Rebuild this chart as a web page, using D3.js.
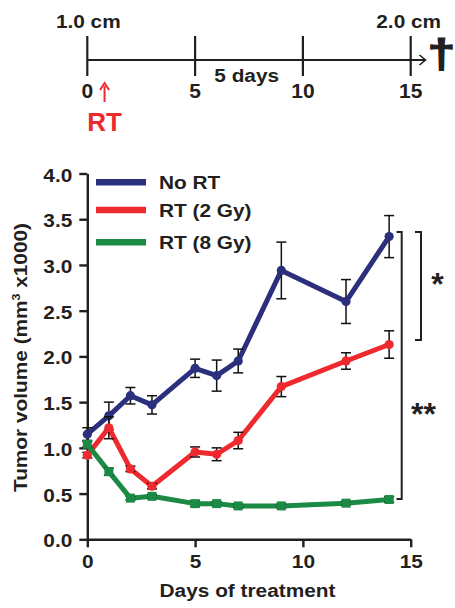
<!DOCTYPE html>
<html><head><meta charset="utf-8">
<script src="https://cdn.jsdelivr.net/npm/d3@7"></script>
<style>
html,body{margin:0;padding:0;background:#fff;}
svg{display:block;}
text{font-family:"Liberation Sans",Arial,Helvetica,sans-serif;font-weight:bold;fill:#231f20;}
</style></head>
<body>
<svg id="c" width="455" height="608"></svg>
<script>
// ---------- data ----------
const days = [0, 1, 2, 3, 5, 6, 7, 9, 12, 14];
const seriesNames = ["No RT", "RT (2 Gy)", "RT (8 Gy)"];
const noRT     = [1.15, 1.35, 1.57, 1.47, 1.87, 1.79, 1.95, 2.94, 2.60, 3.31];
const noRTErr  = [0.07, 0.15, 0.09, 0.10, 0.10, 0.17, 0.13, 0.31, 0.24, 0.23];
const rt2      = [0.92, 1.22, 0.77, 0.58, 0.955, 0.93, 1.08, 1.67, 1.95, 2.13];
const rt2Err   = [0.03, 0.12, 0.03, 0.03, 0.055, 0.07, 0.09, 0.11, 0.09, 0.15];
const rt8      = [1.04, 0.74, 0.45, 0.47, 0.39, 0.39, 0.365, 0.365, 0.395, 0.435];
const rt8Err   = [0.03, 0.04, 0.02, 0.02, 0.03, 0.02, 0.02, 0.02, 0.02, 0.03];
const yTicks = [0, 0.5, 1.0, 1.5, 2.0, 2.5, 3.0, 3.5, 4.0];
const xTicks = [0, 5, 10, 15];
const timelineTicks = [0, 5, 10, 15];
const rtDay = 0.8;
const colors = ["#2b2f7c", "#ee2a2e", "#1b8a44"];
const markers = ["circle", "circle", "square"];

const svg = d3.select("#c");
const SX = 1.12; // horizontal stretch of lettering
const ink = "#231f20";

const x = d3.scaleLinear().domain([0, 15]).range([87.3, 410.7]);
const y = d3.scaleLinear().domain([0, 4]).range([539.3, 173.5]);

function txt(g, s, tx, ty, size, anchor, color, sx) {
  return g.append("text")
    .attr("transform", `translate(${tx},${ty}) scale(${sx == null ? SX : sx},1)`)
    .attr("text-anchor", anchor || "middle")
    .style("font-size", size + "px")
    .style("fill", color || ink)
    .text(s);
}

// ---------- timeline ----------
const tl = svg.append("g");
const tlY = 60;
tl.append("line").attr("x1", x(0)).attr("x2", 425).attr("y1", tlY).attr("y2", tlY)
  .attr("stroke", ink).attr("stroke-width", 2);
tl.append("path").attr("d", `M419.5,${tlY-5}L425.5,${tlY}L419.5,${tlY+5}`)
  .attr("fill", "none").attr("stroke", ink).attr("stroke-width", 1.6);
tl.selectAll("line.tk").data(timelineTicks).join("line").attr("class", "tk")
  .attr("x1", d => x(d)).attr("x2", d => x(d)).attr("y1", 36).attr("y2", 76)
  .attr("stroke", ink).attr("stroke-width", 2.2);
timelineTicks.forEach(d => txt(tl, String(d), x(d), 98, 20, "middle", ink, 1.05));
txt(tl, "5 days", 246.7, 81.5, 18.6, "middle");
txt(tl, "1.0 cm", x(0) + 1, 27.5, 18.6, "middle");
txt(tl, "2.0 cm", x(15) - 2, 27.5, 18.6, "middle");
// dagger drawn as heavy glyph
txt(tl, "\u2020", 441.5, 68, 40, "middle", ink, 1.25)
  .style("stroke", ink).style("stroke-width", 1.2);
// RT arrow
tl.append("line").attr("x1", x(rtDay)).attr("x2", x(rtDay)).attr("y1", 102).attr("y2", 86)
  .attr("stroke", "#ee2a2e").attr("stroke-width", 2);
tl.append("path").attr("d", `M${x(rtDay)-4.5},${90}L${x(rtDay)},${83}L${x(rtDay)+4.5},${90}`)
  .attr("fill", "none").attr("stroke", "#ee2a2e").attr("stroke-width", 2);
txt(tl, "RT", x(rtDay), 131, 26, "middle", "#ee2a2e", 1.0);

// ---------- axes ----------
const yAxis = svg.append("g").attr("transform", `translate(${x(0)},0)`)
  .call(d3.axisLeft(y).tickValues(yTicks).tickFormat(d3.format(".1f")).tickSize(8).tickSizeOuter(0));
const xAxis = svg.append("g").attr("transform", `translate(0,${y(0)})`)
  .call(d3.axisBottom(x).tickValues(xTicks).tickFormat(d3.format("d")).tickSize(8).tickSizeOuter(0));
[yAxis, xAxis].forEach(a => {
  a.select(".domain").attr("stroke", ink).attr("stroke-width", 2.4);
  a.selectAll(".tick line").attr("stroke", ink).attr("stroke-width", 2.4);
  a.selectAll(".tick text").style("font-size", "18.6px").style("fill", ink);
});
yAxis.selectAll(".tick text").attr("x", null).attr("dy", null)
  .attr("transform", `translate(-15,7.5) scale(${SX},1)`);
xAxis.selectAll(".tick text").attr("y", null).attr("dy", null)
  .attr("transform", `translate(0,28.7) scale(${SX},1)`);
svg.selectAll("g").attr("font-family", null).attr("font-size", null);

// axis titles
txt(svg, "Days of treatment", 247.5, 597, 18.6, "middle");
const yl = svg.append("text")
  .attr("transform", `translate(27,357.5) rotate(-90) scale(${SX},1)`)
  .attr("text-anchor", "middle").style("font-size", "18.6px");
yl.append("tspan").text("Tumor volume (mm");
yl.append("tspan").text("3").attr("dy", -7).style("font-size", "11px");
yl.append("tspan").text(" x1000)").attr("dy", 7);

// ---------- series ----------
const allVals = [noRT, rt2, rt8];
const allErr = [noRTErr, rt2Err, rt8Err];
const line = d3.line().x(d => x(d[0])).y(d => y(d[1]));
allVals.forEach((vals, si) => {
  const pts = days.map((d, i) => [d, vals[i], allErr[si][i]]);
  const g = svg.append("g");
  g.append("path").datum(pts).attr("d", line).attr("fill", "none")
    .attr("stroke", colors[si]).attr("stroke-width", 5).attr("stroke-linejoin", "round");
  // error bars
  const eb = g.selectAll("g.eb").data(pts).join("g").attr("class", "eb");
  eb.append("line").attr("x1", d => x(d[0])).attr("x2", d => x(d[0]))
    .attr("y1", d => y(d[1] + d[2])).attr("y2", d => y(d[1] - d[2]))
    .attr("stroke", "#111").attr("stroke-width", 1.5);
  [1, -1].forEach(sg => {
    eb.append("line").attr("x1", d => x(d[0]) - 5).attr("x2", d => x(d[0]) + 5)
      .attr("y1", d => y(d[1] + sg * d[2])).attr("y2", d => y(d[1] + sg * d[2]))
      .attr("stroke", "#111").attr("stroke-width", 1.5);
  });
  if (markers[si] === "circle") {
    g.selectAll("circle").data(pts).join("circle")
      .attr("cx", d => x(d[0])).attr("cy", d => y(d[1])).attr("r", 4.6).attr("fill", colors[si]);
  } else {
    g.selectAll("rect").data(pts).join("rect")
      .attr("x", d => x(d[0]) - 4.5).attr("y", d => y(d[1]) - 4.5)
      .attr("width", 9).attr("height", 9).attr("fill", colors[si]);
  }
});

// ---------- legend ----------
const legY = [182.3, 210, 242.3];
seriesNames.forEach((n, i) => {
  svg.append("line").attr("x1", 96).attr("x2", 146).attr("y1", legY[i]).attr("y2", legY[i])
    .attr("stroke", colors[i]).attr("stroke-width", 6.5);
  txt(svg, n, 159, legY[i] + 6.7, 18.6, "start");
});

// ---------- significance brackets ----------
const br = svg.append("g").attr("fill", "none").attr("stroke", ink).attr("stroke-width", 2);
const topB = y(3.36), innerBot = y(2.18), outerBot = y(0.44);
br.append("path").attr("d", `M415,${topB}H421V${innerBot}H415`);
br.append("path").attr("d", `M396.5,${topB}H401.7V${outerBot}H396.5`);
txt(svg, "*", 437.5, 295, 32, "middle", ink, 1.0);
txt(svg, "**", 423.5, 424.5, 32, "middle", ink, 1.0);
</script>
</body></html>
